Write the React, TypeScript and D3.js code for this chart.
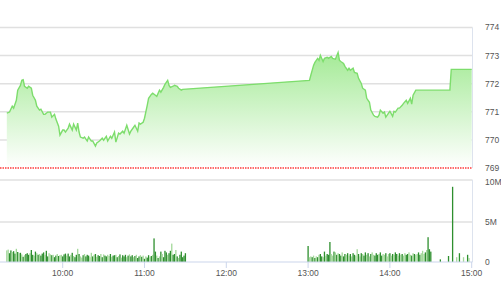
import React from "react";
import * as d3 from "d3";

// ---- Data ----
const priceTimes = [
  "09:19","09:21","09:23","09:24","09:26","09:27","09:29","09:30","09:31","09:32","09:34","09:35","09:37","09:38","09:40","09:41","09:43","09:44","09:46","09:47","09:49","09:51","09:52","09:54","09:55","09:57","09:58",
  "10:00","10:01","10:02","10:04","10:05","10:07","10:08","10:10","10:11","10:12","10:13","10:15","10:16","10:18","10:19","10:21","10:22","10:24","10:25","10:27","10:29","10:30","10:32","10:33","10:35","10:36","10:38","10:39","10:41","10:42","10:44","10:45","10:47","10:49","10:50","10:52","10:53","10:55","10:56","10:57","10:59",
  "11:00","11:02","11:03","11:05","11:06","11:08","11:09","11:11","11:12","11:14","11:15","11:17","11:18","11:19","11:21","11:22","11:24","11:25","11:27","11:28",
  "13:01","13:02","13:04","13:05","13:07","13:08","13:09","13:11","13:12","13:14","13:15","13:17","13:18","13:20","13:22","13:23","13:24","13:26","13:27","13:29","13:30","13:31","13:33","13:34","13:36","13:37","13:39","13:40","13:42","13:43","13:45","13:46","13:48","13:49","13:51","13:52","13:53","13:55","13:56","13:57","13:59",
  "14:00","14:02","14:03","14:04","14:06","14:07","14:09","14:10","14:12","14:13","14:15","14:16","14:17","14:19","14:44","14:45","15:00"
];
const priceValues = [
  770.95,770.99,771.20,771.13,771.41,771.77,771.94,772.12,772.14,771.91,771.84,771.91,771.84,771.59,771.41,771.20,771.06,771.09,770.91,770.91,770.99,770.99,770.81,770.91,770.74,770.49,770.17,
  770.35,770.35,770.28,770.42,770.56,770.35,770.56,770.35,770.60,770.28,770.10,770.06,770.10,769.96,770.10,769.96,769.96,769.78,769.89,769.96,770.06,769.99,770.13,769.96,770.13,770.06,770.28,769.92,770.24,770.21,770.31,770.24,770.52,770.21,770.31,770.45,770.52,770.31,770.60,770.56,770.63,
  770.77,771.23,771.48,771.62,771.66,771.59,771.55,771.77,771.70,771.87,771.98,772.12,771.94,771.87,771.91,771.94,771.91,771.84,771.77,771.80,
  772.12,772.30,772.65,772.76,772.90,772.83,773.01,772.79,772.90,772.94,772.90,772.97,772.90,772.87,773.11,772.83,772.79,772.72,772.62,772.48,772.55,772.48,772.55,772.40,772.37,772.19,772.01,771.84,771.77,771.48,771.34,771.06,770.88,770.84,770.81,770.88,771.06,770.95,770.99,770.81,770.95,
  771.02,770.84,771.02,770.99,771.13,771.13,771.23,771.30,771.41,771.30,771.48,771.27,771.59,771.77,771.77,772.51,772.51
];
const referencePrice = 769;

const morningStart = "09:19";
const morningVolumes = [
  1.45,1.55,1.1,1.45,1.25,1.35,1.05,1.65,1.25,1.1,
  1.15,0.95,0.65,0.85,1.0,1.1,0.9,1.1,1.5,0.9,
  0.8,1.3,1.1,0.9,1.0,0.8,1.05,1.2,0.9,1.4,
  0.7,1.1,0.95,0.85,0.9,0.6,0.8,1.0,0.75,0.85,
  0.9,0.7,0.95,1.05,0.8,1.05,0.7,0.9,1.15,0.75,
  0.6,0.9,1.65,1.0,0.7,0.55,0.85,1.0,0.7,0.9,
  0.8,0.6,1.15,0.7,0.9,1.0,0.65,0.85,0.75,1.0,
  0.6,0.95,0.8,0.7,0.9,0.75,1.0,0.65,0.8,0.85,
  0.9,0.6,0.75,0.95,0.55,0.85,0.7,0.9,0.6,0.8,
  0.95,0.7,0.85,0.6,0.75,0.9,0.5,0.7,0.85,0.65,
  0.8,0.4,0.7,0.55,0.85,0.6,0.75,0.9,2.95,1.3,
  0.8,0.5,0.7,1.3,1.0,0.6,1.4,1.2,0.9,1.1,
  1.4,2.3,0.9,1.0,1.5,0.7,0.5,0.9,1.3,0.6,
  0.8,1.1
];
const morningSides = "llddlddldldldldddlddldldldddlddlldlddldlldddlddldlddldlldldddlldldlddldlddlldlddldldldddldlddldlddldldlddldlddldldldddlddlddldl";

const afternoonStart = "13:00";
const afternoonVolumes = [
  2.0,0.6,0.7,0.6,0.8,0.5,0.7,0.6,0.9,1.0,
  0.7,0.6,1.3,0.8,1.0,0.9,2.5,1.0,0.8,1.3,
  1.2,0.9,1.1,1.0,0.8,1.2,0.7,1.0,0.9,1.1,
  0.8,1.0,0.7,1.1,0.9,0.8,1.6,1.0,0.7,1.1,
  1.0,0.8,1.2,0.9,1.1,0.7,1.0,1.2,0.9,0.8,
  1.1,0.9,1.0,1.2,0.8,1.0,0.9,1.1,0.7,1.0,
  1.1,0.8,1.0,0.9,1.2,1.0,0.8,1.1,0.9,1.0,
  0.8,1.1,0.9,1.0,1.2,0.9,0.8,1.1,1.0,0.9,
  1.0,1.2,0.9,1.1,1.4,1.0,1.2,1.5,3.1,1.6,
  1.3
];
const afternoonSides = "dlldldldlddldldddlldldlddlddldldlddlldldlddldldlldddlddlldlldldlddldldllddlldldllddllldld";

const lateTimes = ["14:37","14:43","14:46","14:49","14:51","14:54","14:57","14:58"];
const lateVolumes = [0.33,0.75,9.4,0.6,1.1,0.6,0.9,0.5];
const lateSides = "dddldldl";

const priceTicks = [769, 770, 771, 772, 773, 774];
const volumeTicks = [0, 5, 10];
const timeTicks = ["10:00","11:00","12:00","13:00","14:00","15:00"];

// ---- Helpers ----
const toMin = (t: string) => {
  const [h, m] = t.split(":").map(Number);
  return h * 60 + m;
};

type Bar = { t: number; v: number; side: string };
const bars: Bar[] = [];
morningVolumes.forEach((v, i) => bars.push({ t: toMin(morningStart) + i, v, side: morningSides[i] || "d" }));
afternoonVolumes.forEach((v, i) => bars.push({ t: toMin(afternoonStart) + i, v, side: afternoonSides[i] || "d" }));
lateVolumes.forEach((v, i) => bars.push({ t: toMin(lateTimes[i]), v, side: lateSides[i] }));

const W = 501, H = 300;

export default function App() {
  const x = d3.scaleLinear().domain([toMin("10:00"), toMin("15:00")]).range([62.7, 471.7]);
  const yP = d3.scaleLinear().domain([769, 774]).range([168, 27.5]);
  const yV = d3.scaleLinear().domain([0, 10]).range([262, 182]);
  const plotLeft = 0, plotRight = 472.5;

  const pts = priceTimes.map((t, i) => ({ t: toMin(t), p: priceValues[i] }));
  const line = d3.line<{ t: number; p: number }>().x(d => x(d.t)).y(d => yP(d.p));
  const area = d3.area<{ t: number; p: number }>().x(d => x(d.t)).y0(yP(referencePrice)).y1(d => yP(d.p));

  const font = "'Liberation Sans', Arial, sans-serif";

  return (
    <div style={{ position: "fixed", left: 0, top: 0 }}>
      <svg width={W} height={H} style={{ display: "block", background: "#fff" }}>
        <defs>
          <linearGradient id="pg" x1="0" y1="0" x2="0" y2="1">
            <stop offset="0%" stopColor="#a4ea96" stopOpacity={1} />
            <stop offset="100%" stopColor="#ffffff" stopOpacity={1} />
          </linearGradient>
        </defs>
        {/* price panel */}
        {priceTicks.slice(1).map(v => (
          <line key={v} x1={plotLeft} x2={plotRight} y1={yP(v)} y2={yP(v)} stroke="#e0e0e0" strokeWidth={1.5} />
        ))}
        <line x1={plotRight} x2={plotRight} y1={yP(774)} y2={yP(769)} stroke="#dde3ee" strokeWidth={1} />
        <path d={area(pts) || ""} fill="url(#pg)" />
        <path d={line(pts) || ""} fill="none" stroke="#7ddd6c" strokeWidth={1.4} />
        <line x1={plotLeft} x2={plotRight} y1={yP(referencePrice)} y2={yP(referencePrice)} stroke="#ff3b3b" strokeWidth={1.6} strokeDasharray="1.5,1" />
        {priceTicks.map(v => (
          <text key={v} x={485} y={yP(v)} dy="0.35em" fontSize={8.5} fill="#555" fontFamily={font}>{v}</text>
        ))}

        {/* volume panel */}
        <line x1={plotLeft} x2={plotRight} y1={180} y2={180} stroke="#e0e0e0" strokeWidth={1.5} />
        <line x1={plotLeft} x2={plotRight} y1={yV(5)} y2={yV(5)} stroke="#e0e0e0" strokeWidth={1.5} />
        <line x1={plotRight} x2={plotRight} y1={180} y2={yV(0)} stroke="#dde3ee" strokeWidth={1} />
        {bars.map((b, i) => (
          <rect key={i} x={x(b.t) - 0.65} width={1.3} y={yV(b.v)} height={yV(0) - yV(b.v)}
            fill={b.side === "d" ? "#2e8f2e" : "#a3d89a"} />
        ))}
        <line x1={plotLeft} x2={plotRight} y1={yV(0)} y2={yV(0)} stroke="#ccd6eb" strokeWidth={1.2} />
        {timeTicks.map(t => (
          <g key={t}>
            <line x1={x(toMin(t))} x2={x(toMin(t))} y1={yV(0)} y2={yV(0) + 6} stroke="#ccd6eb" strokeWidth={1} />
            <text x={x(toMin(t))} y={275.5} textAnchor="middle" fontSize={8.5} fill="#555" fontFamily={font}>{t}</text>
          </g>
        ))}
        {volumeTicks.map(v => (
          <text key={v} x={485} y={yV(v)} dy="0.35em" fontSize={8.5} fill="#555" fontFamily={font}>{v === 0 ? "0" : `${v}M`}</text>
        ))}
      </svg>
    </div>
  );
}
